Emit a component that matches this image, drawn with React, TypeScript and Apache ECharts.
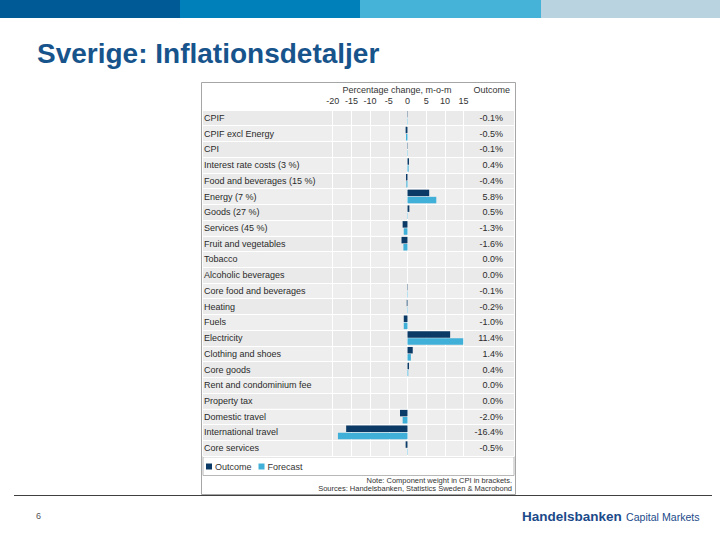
import React, { useEffect, useRef } from "react";
import * as echarts from "echarts";

const categories = [
  "CPIF",
  "CPIF excl Energy",
  "CPI",
  "Interest rate costs (3 %)",
  "Food and beverages (15 %)",
  "Energy (7 %)",
  "Goods (27 %)",
  "Services (45 %)",
  "Fruit and vegetables",
  "Tobacco",
  "Alcoholic beverages",
  "Core food and beverages",
  "Heating",
  "Fuels",
  "Electricity",
  "Clothing and shoes",
  "Core goods",
  "Rent and condominium fee",
  "Property tax",
  "Domestic travel",
  "International travel",
  "Core services",
];

const outcome = [
  -0.1, -0.5, -0.1, 0.4, -0.4, 5.8, 0.5, -1.3, -1.6, 0.0, 0.0, -0.1, -0.2, -1.0,
  11.4, 1.4, 0.4, 0.0, 0.0, -2.0, -16.4, -0.5,
];

const forecast = [
  -0.1, -0.4, -0.1, 0.3, -0.3, 7.7, 0.1, -1.0, -1.1, 0.0, 0.0, -0.1, -0.1, -1.0,
  14.9, 0.9, 0.2, 0.0, 0.0, -1.3, -18.6, 0.1,
];

const xMin = -20;
const xMax = 15;
const xInterval = 5;

const FONT = "'Liberation Sans', Arial, sans-serif";

export default function App() {
  const ref = useRef<HTMLDivElement>(null);

  useEffect(() => {
    document.body.style.margin = "0";
    if (!ref.current) return;
    const chart = echarts.init(ref.current, undefined, { renderer: "svg" });

    const fmt = (v: number) => v.toFixed(1) + "%";

    const option: any = {
      animation: false,
      backgroundColor: "#ffffff",
      textStyle: { fontFamily: FONT },
      grid: [
        { left: 332.7, right: 256.4, top: 110, bottom: 84 },
        { left: 203, right: 206, top: 110, bottom: 84 },
      ],
      xAxis: [
        {
          gridIndex: 0,
          type: "value",
          position: "top",
          min: xMin,
          max: xMax,
          interval: xInterval,
          axisLine: { show: false },
          axisTick: { show: false },
          axisLabel: { fontSize: 9, color: "#333", margin: 5, fontFamily: FONT },
          splitLine: { show: true, lineStyle: { color: "#ffffff", width: 1 } },
          z: 3,
        },
        { gridIndex: 1, type: "value", show: false, min: 0, max: 1 },
      ],
      yAxis: [
        {
          gridIndex: 0,
          type: "category",
          data: categories,
          inverse: true,
          show: false,
        },
        {
          gridIndex: 1,
          type: "category",
          data: categories,
          inverse: true,
          position: "left",
          axisLine: { show: false },
          axisTick: { show: false },
          axisLabel: {
            inside: true,
            margin: 1,
            fontSize: 9,
            color: "#2a2a2a",
            fontFamily: FONT,
          },
          splitArea: { show: true, areaStyle: { color: ["#eaeaea", "#eeeeee"] } },
          splitLine: { show: true, lineStyle: { color: "#ffffff", width: 1 } },
          z: 1,
        },
        {
          gridIndex: 1,
          type: "category",
          data: categories,
          inverse: true,
          position: "right",
          axisLine: { show: false },
          axisTick: { show: false },
          splitLine: { show: false },
          axisLabel: {
            inside: true,
            margin: 11,
            fontSize: 9,
            color: "#2a2a2a",
            fontFamily: FONT,
            formatter: (_v: string, i: number) => fmt(outcome[i]),
          },
          z: 1,
        },
      ],
      legend: {
        left: 206,
        top: 462,
        padding: 0,
        itemWidth: 6,
        itemHeight: 6,
        itemGap: 7,
        icon: "rect",
        textStyle: { fontSize: 9, color: "#333", fontFamily: FONT, padding: [0, 0, 0, -2] },
        data: ["Outcome", "Forecast"],
      },
      series: [
        {
          name: "Outcome",
          type: "bar",
          xAxisIndex: 0,
          yAxisIndex: 0,
          data: outcome,
          barWidth: 6.5,
          barGap: "10%",
          itemStyle: { color: "#0b3a66" },
          z: 5,
        },
        {
          name: "Forecast",
          type: "bar",
          xAxisIndex: 0,
          yAxisIndex: 0,
          data: forecast,
          barWidth: 6.5,
          barGap: "10%",
          itemStyle: { color: "#41b0d9" },
          z: 5,
        },
      ],
      graphic: [
        { type: "rect", shape: { x: 0, y: 0, width: 180, height: 18 }, style: { fill: "#005a96" } },
        { type: "rect", shape: { x: 180, y: 0, width: 180, height: 18 }, style: { fill: "#0080bb" } },
        { type: "rect", shape: { x: 360, y: 0, width: 181, height: 18 }, style: { fill: "#45b3d7" } },
        { type: "rect", shape: { x: 541, y: 0, width: 179, height: 18 }, style: { fill: "#b9d3e0" } },
        {
          type: "text",
          x: 37,
          y: 53,
          style: {
            text: "Sverige: Inflationsdetaljer",
            fontSize: 28,
            fontWeight: "bold",
            fontFamily: FONT,
            fill: "#17548c",
            verticalAlign: "middle",
          },
        },
        {
          type: "rect",
          z: -10,
          shape: { x: 201.5, y: 82.5, width: 314, height: 412 },
          style: { fill: "#ffffff", stroke: "#a6a6a6", lineWidth: 1 },
        },
        {
          type: "text",
          x: 397,
          y: 90,
          style: {
            text: "Percentage change, m-o-m",
            fontSize: 9,
            fontFamily: FONT,
            fill: "#333",
            align: "center",
            verticalAlign: "middle",
          },
        },
        {
          type: "text",
          x: 510,
          y: 90,
          style: {
            text: "Outcome",
            fontSize: 9,
            fontFamily: FONT,
            fill: "#333",
            align: "right",
            verticalAlign: "middle",
          },
        },
        {
          type: "rect",
          shape: { x: 203, y: 456.5, width: 311, height: 19 },
          style: { fill: "none", stroke: "#b8b8b8", lineWidth: 1 },
        },
        {
          type: "line",
          shape: { x1: 203, y1: 456.5, x2: 514, y2: 456.5 },
          style: { stroke: "#a0a0a0", lineWidth: 1.5 },
        },
        {
          type: "text",
          x: 512,
          y: 480,
          style: {
            text: "Note: Component weight in CPI in brackets.",
            fontSize: 7.5,
            fontFamily: FONT,
            fill: "#333",
            align: "right",
            verticalAlign: "middle",
          },
        },
        {
          type: "text",
          x: 512,
          y: 488.5,
          style: {
            text: "Sources: Handelsbanken, Statistics Sweden & Macrobond",
            fontSize: 7.5,
            fontFamily: FONT,
            fill: "#333",
            align: "right",
            verticalAlign: "middle",
          },
        },
        {
          type: "line",
          shape: { x1: 14, y1: 495.5, x2: 712, y2: 495.5 },
          style: { stroke: "#404040", lineWidth: 1 },
        },
        {
          type: "text",
          x: 36,
          y: 516,
          style: {
            text: "6",
            fontSize: 9,
            fontFamily: FONT,
            fill: "#555",
            verticalAlign: "middle",
          },
        },
        {
          type: "text",
          x: 522,
          y: 516,
          style: {
            text: "Handelsbanken",
            fontSize: 13.5,
            fontWeight: "bold",
            fontFamily: FONT,
            fill: "#1b4a8a",
            verticalAlign: "middle",
          },
        },
        {
          type: "text",
          x: 626,
          y: 517,
          style: {
            text: "Capital Markets",
            fontSize: 10.6,
            fontFamily: FONT,
            fill: "#1b4a8a",
            verticalAlign: "middle",
          },
        },
      ],
    };

    chart.setOption(option);
    return () => chart.dispose();
  }, []);

  return (
    <div
      ref={ref}
      style={{ position: "absolute", left: 0, top: 0, width: 720, height: 540 }}
    />
  );
}
